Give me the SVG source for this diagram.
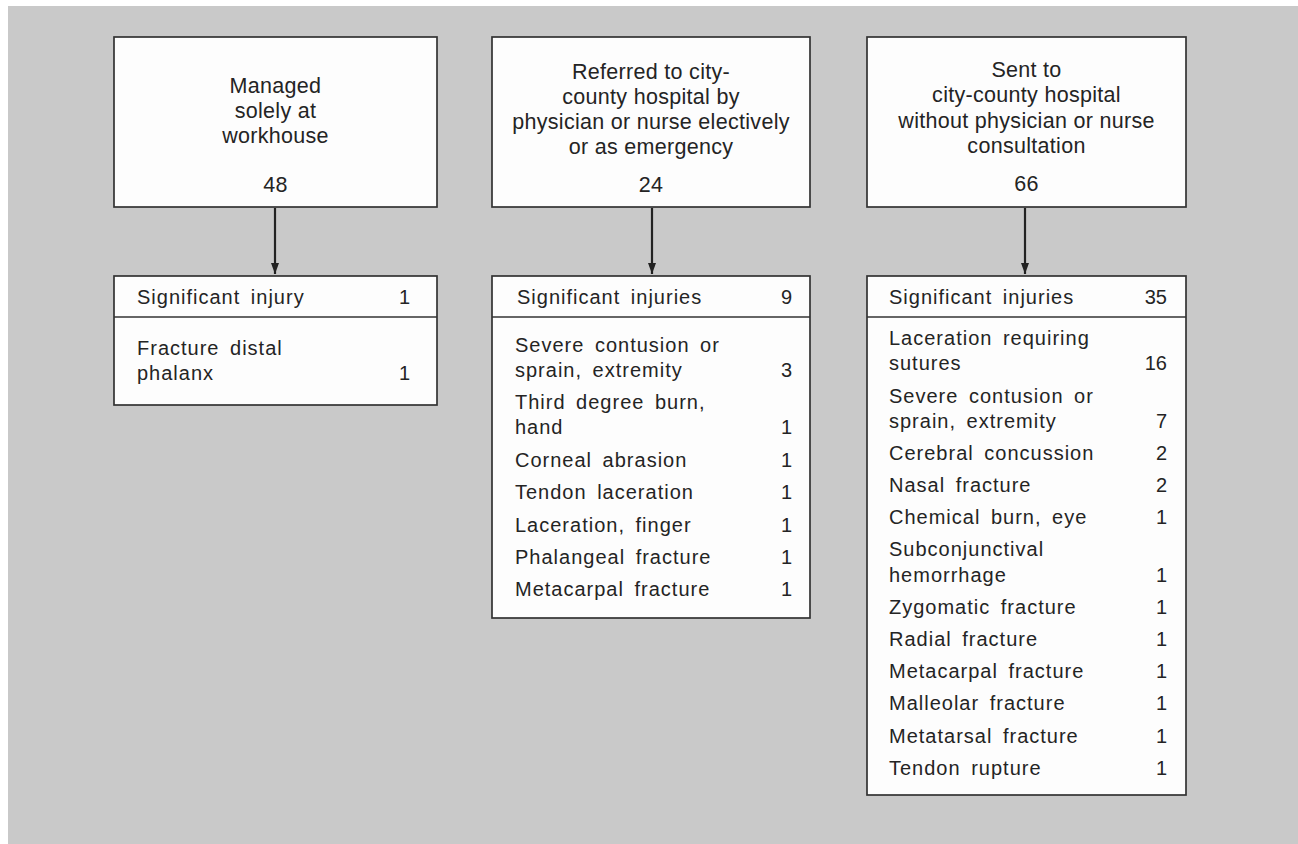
<svg xmlns="http://www.w3.org/2000/svg" width="1298" height="844" viewBox="0 0 1298 844">
<defs>
<style>
.bg{fill:#c9c9c9}
.box{fill:#fdfdfd;stroke:#333;stroke-width:1.7}
.div{stroke:#333;stroke-width:1.7}
.h{font-family:"Liberation Sans",Arial,sans-serif;font-size:21.5px;fill:#242424;text-anchor:middle;letter-spacing:0.3px}
.t{font-family:"Liberation Sans",Arial,sans-serif;font-size:20px;fill:#242424;letter-spacing:1px;word-spacing:4px}
.n{font-family:"Liberation Sans",Arial,sans-serif;font-size:20px;fill:#242424;text-anchor:end}
.conn{stroke:#222;stroke-width:2.2;fill:none}
</style>
<marker id="ah" viewBox="0 0 10 10" refX="10" refY="5" markerWidth="11" markerHeight="8" markerUnits="userSpaceOnUse" orient="auto" preserveAspectRatio="none">
<path d="M0,0 L10,5 L0,10 z" fill="#222"/>
</marker>
</defs>
<rect x="0" y="0" width="1298" height="844" fill="#ffffff"/>
<rect class="bg" x="8" y="6" width="1290" height="838"/>

<g id="connectors">
<line class="conn" x1="275" y1="208" x2="275" y2="274" marker-end="url(#ah)"/>
<line class="conn" x1="652" y1="208" x2="652" y2="274" marker-end="url(#ah)"/>
<line class="conn" x1="1025" y1="208" x2="1025" y2="274" marker-end="url(#ah)"/>
</g>

<g id="top-workhouse">
<rect class="box" x="114" y="37" width="323" height="170"/>
<text class="h" x="275.5" y="93">Managed</text>
<text class="h" x="275.5" y="118">solely at</text>
<text class="h" x="275.5" y="143">workhouse</text>
<text class="h" x="275.5" y="192">48</text>
</g>

<g id="top-referred">
<rect class="box" x="492" y="37" width="318" height="170"/>
<text class="h" x="651" y="79">Referred to city-</text>
<text class="h" x="651" y="104">county hospital by</text>
<text class="h" x="651" y="129">physician or nurse electively</text>
<text class="h" x="651" y="154">or as emergency</text>
<text class="h" x="651" y="192">24</text>
</g>

<g id="top-sent">
<rect class="box" x="867" y="37" width="319" height="170"/>
<text class="h" x="1026.5" y="77">Sent to</text>
<text class="h" x="1026.5" y="102">city-county hospital</text>
<text class="h" x="1026.5" y="128">without physician or nurse</text>
<text class="h" x="1026.5" y="153">consultation</text>
<text class="h" x="1026.5" y="191">66</text>
</g>

<g id="injuries-workhouse">
<rect class="box" x="114" y="276" width="323" height="129"/>
<line class="div" x1="114" y1="317" x2="437" y2="317"/>
<text class="t" x="137" y="304">Significant injury</text>
<text class="n" x="410" y="304">1</text>
<text class="t" x="137" y="355">Fracture distal</text>
<text class="t" x="137" y="380">phalanx</text>
<text class="n" x="410" y="380">1</text>
</g>

<g id="injuries-referred">
<rect class="box" x="492" y="276" width="318" height="342"/>
<line class="div" x1="492" y1="317" x2="810" y2="317"/>
<text class="t" x="517" y="304">Significant injuries</text>
<text class="n" x="792" y="304">9</text>
<text class="t" x="515" y="352">Severe contusion or</text>
<text class="t" x="515" y="377">sprain, extremity</text>
<text class="n" x="792" y="377">3</text>
<text class="t" x="515" y="409">Third degree burn,</text>
<text class="t" x="515" y="434">hand</text>
<text class="n" x="792" y="434">1</text>
<text class="t" x="515" y="467">Corneal abrasion</text>
<text class="n" x="792" y="467">1</text>
<text class="t" x="515" y="499">Tendon laceration</text>
<text class="n" x="792" y="499">1</text>
<text class="t" x="515" y="532">Laceration, finger</text>
<text class="n" x="792" y="532">1</text>
<text class="t" x="515" y="564">Phalangeal fracture</text>
<text class="n" x="792" y="564">1</text>
<text class="t" x="515" y="596">Metacarpal fracture</text>
<text class="n" x="792" y="596">1</text>
</g>

<g id="injuries-sent">
<rect class="box" x="867" y="276" width="319" height="519"/>
<line class="div" x1="867" y1="317" x2="1186" y2="317"/>
<text class="t" x="889" y="304">Significant injuries</text>
<text class="n" x="1167" y="304">35</text>
<text class="t" x="889" y="345">Laceration requiring</text>
<text class="t" x="889" y="370">sutures</text>
<text class="n" x="1167" y="370">16</text>
<text class="t" x="889" y="403">Severe contusion or</text>
<text class="t" x="889" y="428">sprain, extremity</text>
<text class="n" x="1167" y="428">7</text>
<text class="t" x="889" y="460">Cerebral concussion</text>
<text class="n" x="1167" y="460">2</text>
<text class="t" x="889" y="492">Nasal fracture</text>
<text class="n" x="1167" y="492">2</text>
<text class="t" x="889" y="524">Chemical burn, eye</text>
<text class="n" x="1167" y="524">1</text>
<text class="t" x="889" y="556">Subconjunctival</text>
<text class="t" x="889" y="582">hemorrhage</text>
<text class="n" x="1167" y="582">1</text>
<text class="t" x="889" y="614">Zygomatic fracture</text>
<text class="n" x="1167" y="614">1</text>
<text class="t" x="889" y="646">Radial fracture</text>
<text class="n" x="1167" y="646">1</text>
<text class="t" x="889" y="678">Metacarpal fracture</text>
<text class="n" x="1167" y="678">1</text>
<text class="t" x="889" y="710">Malleolar fracture</text>
<text class="n" x="1167" y="710">1</text>
<text class="t" x="889" y="743">Metatarsal fracture</text>
<text class="n" x="1167" y="743">1</text>
<text class="t" x="889" y="775">Tendon rupture</text>
<text class="n" x="1167" y="775">1</text>
</g>
</svg>
